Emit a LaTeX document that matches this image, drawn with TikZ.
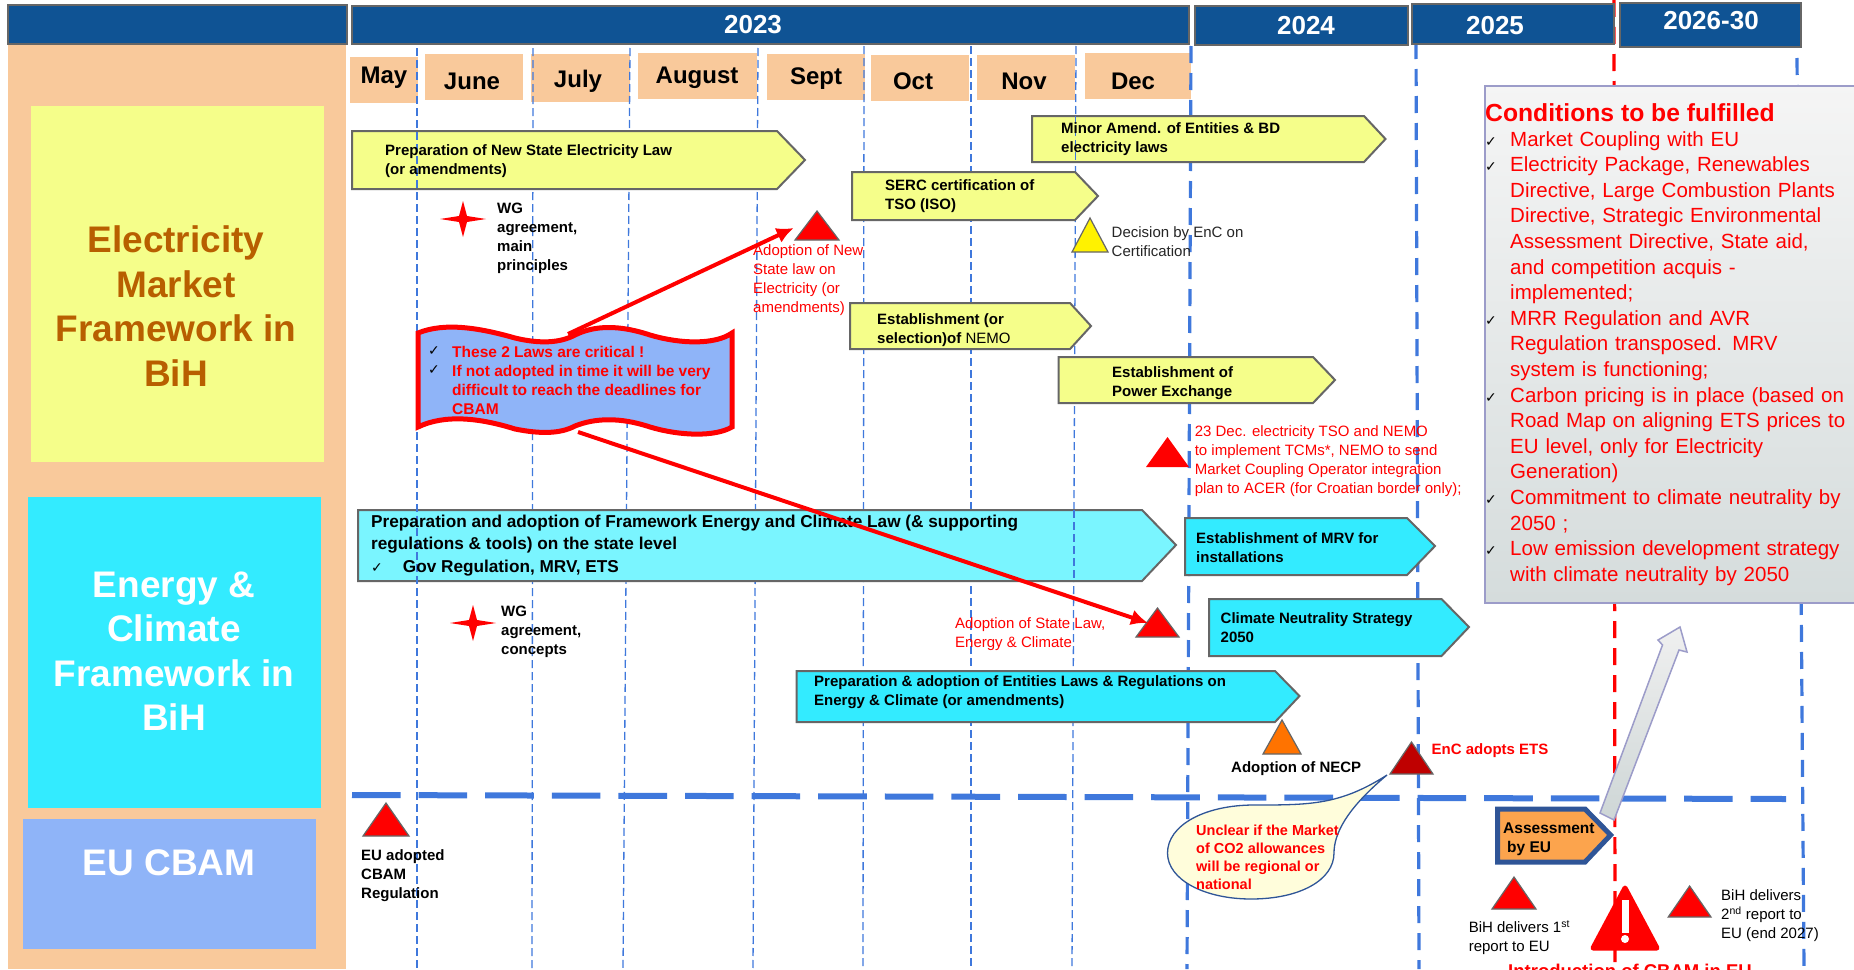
\documentclass[tikz,border=0pt]{standalone}
\usepackage{fontspec}
\setmainfont{Liberation Sans}
\newfontfamily\dejavu{DejaVu Sans}
\usetikzlibrary{arrows.meta}
\definecolor{hdr}{HTML}{0F5394}
\definecolor{peach}{HTML}{F9C99B}
\definecolor{ylw}{HTML}{F5FE8A}
\definecolor{cyn}{HTML}{33EBFF}
\definecolor{lcyn}{HTML}{7AF5FF}
\definecolor{cbam}{HTML}{8FB4F8}
\definecolor{grn}{HTML}{666666}
\definecolor{brn}{HTML}{B85F00}
\definecolor{vline}{HTML}{3F78DC}
\definecolor{navy}{HTML}{2F5597}
\tikzset{
 hbar/.style={fill=hdr,draw=grn,line width=1.5pt},
 hlab/.style={font=\fontsize{26}{30}\selectfont\bfseries,text=white,inner sep=0pt},
 mbox/.style={fill=peach},
 mlab/.style={font=\fontsize{24}{28}\selectfont\bfseries,inner sep=0pt},
 sidelab/.style={font=\fontsize{37}{44.5}\selectfont\bfseries,align=center,inner sep=0pt},
 yarrow/.style={fill=ylw,draw=grn,line width=2pt},
 carrow/.style={fill=cyn,draw=grn,line width=2pt},
 lab/.style={anchor=west,align=left,inner sep=0pt,font=\fontsize{15}{19}\selectfont},
 blab/.style={lab,font=\fontsize{15}{19}\selectfont\bfseries},
 rlab/.style={lab,text=red},
 rblab/.style={blab,text=red},
 thin dash/.style={draw=vline,line width=1.3pt,dash pattern=on 8pt off 4pt},
 thick dash/.style={draw=vline,line width=3.2pt,dash pattern=on 17pt off 10pt},
 red dash/.style={draw=red,line width=3.2pt,dash pattern=on 17pt off 10pt},
 tri/.style={fill=red,draw=grn,line width=1.2pt},
 redarrow/.style={draw=red,line width=4pt,-{Latex[length=17pt,width=16pt]}},
}
\newcommand{\penta}[7]{\path[#1] (#2,#4) -- (#3,#4) -- (#6,#7) -- (#3,#5) -- (#2,#5) -- cycle;}
\newcommand{\trig}[5]{\path[#1] (#2,#3) -- (#5,#4) -- ({2*#2-#5},#4) -- cycle;}
\newcommand{\fourstar}[2]{\path[fill=red] (#1,{#2-18}) -- ({#1+4},{#2-3}) -- ({#1+23},#2) -- ({#1+4},{#2+3}) -- (#1,{#2+18}) -- ({#1-4},{#2+3}) -- ({#1-23},#2) -- ({#1-4},{#2-3}) -- cycle;}
\newcommand{\chk}{{\dejavu\fontsize{14}{14}\selectfont ✓}}
\begin{document}
\begin{tikzpicture}[x=1pt,y=-1pt]
\path[use as bounding box,clip] (0,0) rectangle (1854,969);
\fill[white] (0,0) rectangle (1854,969);
% side band
\fill[peach] (8,44) rectangle (346,969);
\fill[ylw] (31,106) rectangle (324,462);
\fill[cyn] (28,497) rectangle (321,808);
\fill[cbam] (23,819) rectangle (316,949);
\node[sidelab,text=brn] (elec) at (176,306) {Electricity\\Market\\Framework in\\BiH};
\node[sidelab,text=white] (enclim) at (174,651) {Energy \&\\Climate\\Framework in\\BiH};
\node[sidelab,text=white] (eucbam) at (169,863) {EU CBAM};
% month boxes
\fill[mbox] (350,57) rectangle (418,103);
\fill[mbox] (425,54) rectangle (523,100);
\fill[mbox] (531,54) rectangle (630,102);
\fill[mbox] (638,53) rectangle (757,99);
\fill[mbox] (767,54) rectangle (865,100);
\fill[mbox] (871,55) rectangle (969,101);
\fill[mbox] (977,55) rectangle (1075,100);
\fill[mbox] (1085,53) rectangle (1191,99);
\node[mlab] (may) at (384,78) {May};
\node[mlab] (jun) at (472,81) {June};
\node[mlab] (jul) at (578,81) {July};
\node[mlab] (aug) at (697,78) {August};
\node[mlab] (sep) at (816,79) {Sept};
\node[mlab] (oct) at (913,81) {Oct};
\node[mlab] (nov) at (1024,81) {Nov};
\node[mlab] (dec) at (1133,81) {Dec};
% vertical lines
\draw[thin dash] (533,48) -- (532,969);
\draw[thin dash] (630,48) -- (623,969);
\draw[thin dash] (758,48) -- (753,969);
\draw[thin dash] (864,46) -- (863,969);
\draw[thin dash] (971,46) -- (971,969);
\draw[thin dash] (1076,46) -- (1072,969);
\draw[thick dash] (1191,46) -- (1187,969);
\draw[thick dash] (1416,42) -- (1419,969);
\draw[red dash] (1614,0) -- (1615,969);
\draw[thick dash] (1797,58) -- (1804,969);
% header
\path[hbar] (8,5) rectangle (347,44);
\path[hbar] (352,6) rectangle (1189,44);
\path[hbar] (1195,6) rectangle (1408,45);
\path[hbar] (1412,4) rectangle (1614,44);
\path[hbar] (1620,3) rectangle (1801,47);
\node[hlab] (y23) at (753,25) {2023};
\node[hlab] (y24) at (1306,26) {2024};
\node[hlab] (y25) at (1495,26) {2025};
\node[hlab] (y26) at (1711,21) {2026-30};
% horizontal dashed
\draw[vline,line width=6pt,dash pattern=on 48.6pt off 18pt] (352,795) -- (1786,799);
% yellow arrows
\penta{yarrow}{352}{777}{131}{189}{805}{160}
\penta{yarrow}{852}{1075}{172}{220}{1098}{196}
\penta{yarrow}{1032}{1364}{116}{162}{1385.5}{139}
\penta{yarrow}{850}{1070}{303}{349}{1091}{326}
\penta{yarrow}{1058.5}{1313}{357}{403}{1335}{380}
% cyan arrows
\penta{carrow,fill=lcyn}{358}{1142}{510}{581}{1176}{545}
\penta{carrow}{1185}{1407}{518}{575}{1435}{546}
\penta{carrow}{1209}{1441.5}{599}{656}{1469}{627}
\penta{carrow}{796.5}{1275}{671}{722}{1299.5}{696}
% lines on top
\draw[thin dash] (417,48) -- (417,969);
\draw[thin dash] (1075.5,116) -- (1075.5,162);
\draw[thin dash] (1074,510) -- (1074,581);
% arrow labels
\node[blab] (a1) at (385,161.5) {Preparation of New State Electricity Law\\(or amendments)};
\node[blab] (a2) at (885,196.5) {SERC certification of\\TSO (ISO)};
\node[blab] (a3) at (1061,139) {Minor Amend. of Entities \& BD\\electricity laws};
\node[blab] (a4) at (877,330) {Establishment (or\\selection)of {\mdseries NEMO}};
\node[blab] (a5) at (1112,383) {Establishment of\\Power Exchange};
\node[lab,font=\fontsize{17.2}{22.5}\selectfont\bfseries] (c1) at (371,545.5) {Preparation and adoption of Framework Energy and Climate Law (\& supporting\\regulations \& tools) on the state level\\\chk\hspace{20pt}Gov Regulation, MRV, ETS};
\node[blab] (c2) at (1196,547.5) {Establishment of MRV for\\installations};
\node[blab] (c3) at (1220.5,628) {Climate Neutrality Strategy\\2050};
\node[blab] (c4) at (814,692) {Preparation \& adoption  of Entities Laws \& Regulations on\\Energy \& Climate (or amendments)};
% triangles
\trig{tri}{817}{211}{240}{839}
\trig{tri,fill=yellow}{1090}{218}{252}{1108}
\trig{fill=red}{1167.5}{437}{467}{1189}
\trig{tri}{1157.5}{608}{637}{1179}
\trig{tri,fill=orange!90!red}{1282}{720}{754}{1301}
\trig{tri,fill=red!75!black}{1411.5}{742}{774}{1433}
\trig{tri}{386}{803}{836}{409}
\trig{tri}{1514}{877}{909}{1536}
\trig{tri}{1689.6}{886}{917}{1711}
% warning triangle
\path[fill=red,draw=red,line width=5pt,line join=round] (1625,888) -- (1657,948) -- (1593,948) -- cycle;
\fill[white] (1621.5,900) rectangle (1628.5,933);
\fill[white] (1625,939) circle (4);
% stars
\fourstar{463}{219}
\fourstar{473}{623}
% texts
\node[blab] (wg1) at (497,238) {WG\\agreement,\\main\\principles};
\node[blab] (wg2) at (501,632) {WG\\agreement,\\concepts};
\node[rlab] (adn) at (753,280.5) {Adoption of New\\State law on\\Electricity (or\\amendments)};
\node[lab,text=black!85] (dec1) at (1111.5,241.5) {Decision by EnC on\\Certification};
\node[rlab] (d23) at (1194.6,461) {23 Dec. electricity TSO and NEMO\\to implement TCMs*, NEMO to send\\Market Coupling Operator integration\\plan  to ACER (for Croatian border only);};
\node[rlab] (ads) at (955,634.5) {Adoption of State Law,\\Energy \& Climate};
\node[blab] (necp) at (1231,769) {Adoption of NECP};
\node[rblab] (ets) at (1431.5,751) {EnC adopts ETS};
\node[blab] (eua) at (361,876) {EU adopted\\CBAM\\Regulation};
\node[lab] (r1) at (1468.6,938) {BiH delivers 1\textsuperscript{st}\\report to EU};
\node[lab] (r2) at (1721,916) {BiH delivers\\2\textsuperscript{nd}  report to\\EU (end 2027)};
\node[anchor=west,inner sep=0pt,text=red,font=\fontsize{18.5}{22}\selectfont\bfseries] (intro) at (1508,971) {Introduction of CBAM in EU};
% conditions box
\path[top color=white!95!cbam!50!gray!20,bottom color=gray!10!blue!10!cyan!12!gray!45,draw=gray!70!blue!60!white,line width=2pt,top color=black!4,bottom color=black!8!cyan!10!gray!30] (1485,86) rectangle (1870,603);
\node[anchor=west,inner sep=0pt,text=red,font=\fontsize{24.7}{28}\selectfont\bfseries] (cond) at (1485,113) {Conditions to be fulfilled};
\node[anchor=north west,inner sep=0pt,align=left,text=red,font=\fontsize{20.5}{25.6}\selectfont,text width=345pt] (list) at (1510,131) {Market Coupling with EU\\Electricity Package, Renewables\\Directive, Large Combustion Plants\\Directive, Strategic Environmental\\Assessment Directive, State aid,\\and competition acquis -\\implemented;\\MRR Regulation and AVR\\Regulation transposed. MRV\\system is functioning;\\Carbon pricing is in place (based on\\Road Map on aligning ETS prices to\\EU level, only for Electricity\\Generation)\\Commitment to climate neutrality by\\2050 ;\\Low emission development strategy\\with climate neutrality by 2050};
\foreach \yy/\nn in {142/k1,167/k2,321/k3,398/k4,500/k5,551/k6}{\node[inner sep=0pt] (\nn) at (1491,\yy) {\chk};}
% wave
\path[fill=cbam,draw=red,line width=5pt] (418,333) .. controls (445,322) and (480,328) .. (515,338) .. controls (540,344) and (560,343) .. (575,335) .. controls (595,325) and (620,325) .. (650,335) .. controls (680,344) and (715,345) .. (732,333) -- (732,427) .. controls (715,437) and (680,436) .. (650,427) .. controls (620,417) and (595,418) .. (575,426) .. controls (560,434) and (540,434) .. (515,429) .. controls (480,418) and (445,414) .. (418,427) -- cycle;
\node[inner sep=0pt] (k7) at (434,351) {\chk};
\node[inner sep=0pt] (k8) at (434,370) {\chk};
\node[rblab,font=\fontsize{15.5}{19}\selectfont\bfseries] (wave) at (452,380.5) {These 2 Laws are critical  !\\If not adopted in time it will be very\\difficult to reach the deadlines for\\CBAM};
% red arrows
\coordinate (w1) at (568,334);
\coordinate (w2) at (578,432);
\coordinate (t1) at (793.6,228);
\coordinate (t2) at (1148,623);
\draw[redarrow] (w1) -- (t1);
\draw[redarrow] (w2) -- (t2);
% callout
\path[fill=yellow!14,draw=navy,line width=1.3pt] (1387,775) .. controls (1340,805) and (1310,805) .. (1254,805) .. controls (1205,805) and (1167.5,825) .. (1167.5,853) .. controls (1167.5,880) and (1205,899) .. (1251,899) .. controls (1300,899) and (1334,880) .. (1334,853) .. controls (1334,835) and (1345,810) .. (1387,775) -- cycle;
\node[rblab,font=\fontsize{14.5}{18}\selectfont\bfseries] (call) at (1196,857) {Unclear if the Market\\of CO2 allowances\\will be regional or\\national};
% assessment
\path[fill=orange!50!peach,draw=navy,line width=5pt] (1497.5,809) -- (1585,809) -- (1610.6,835) -- (1585,862) -- (1497.5,862) -- cycle;
\node[blab,font=\fontsize{15.5}{19}\selectfont\bfseries] (asmt) at (1503,839.5) {Assessment\\\hspace{4pt}by EU};
% big arrow
\path[top color=black!6,bottom color=black!8!cyan!10!gray!35,draw=gray!70!blue!60!white,line width=1.5pt] (1600,813) -- (1662.5,645) -- (1658,640) -- (1680,627) -- (1687,652) -- (1679,650) -- (1614,820) -- cycle;
\end{tikzpicture}
\end{document}
